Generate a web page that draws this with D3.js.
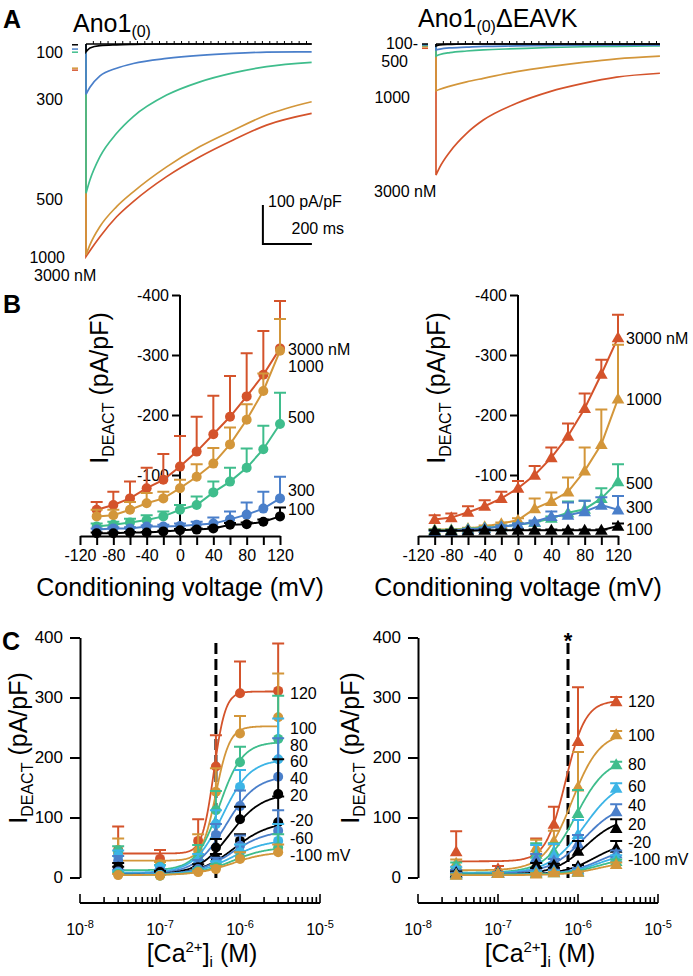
<!DOCTYPE html>
<html>
<head>
<meta charset="utf-8">
<script src="https://cdn.jsdelivr.net/npm/d3@7"></script>
<style>
  body { margin: 0; background: #fff; }
  svg text { font-family: "Liberation Sans", Arial, Helvetica, sans-serif; fill: #000; }
</style>
</head>
<body>
<svg id="chart" width="693" height="976"></svg>
<script>
// colours
const colRed = "#d4532b", colOrange = "#d3963a", colGreen = "#3fbd8c",
  colBlue = "#4a7fca", colSky = "#3cb4e6", colBlack = "#000";
// one colour per [Ca2+]: 100, 300, 500, 1000, 3000 nM
const caColors = [colBlack, colBlue, colGreen, colOrange, colRed];

// ---------- A: deactivation tail currents (pA/pF) at these times (ms)
const traceTimeWT = [0, 16, 57, 125, 193, 329, 465, 601, 737, 921];
const traceTimeMut = [0, 16, 57, 125, 193, 329, 465, 601, 737, 914];
const traceWT100 = [-20, -10, -4, -2, -1, 0, 0, 0, 0, 0];
const traceWT300 = [-129, -111, -82, -62, -50, -37, -29, -24, -21, -20];
const traceWT500 = [-383, -349, -289, -229, -186, -131, -97, -74, -58, -47];
const traceWT1000 = [-541, -515, -468, -417, -379, -315, -263, -221, -182, -148];
const traceWT3000 = [-545, -530, -494, -443, -404, -340, -289, -246, -208, -178];
const traceMut100 = [-5, -2, -1, 0, 0, 0, 0, 0, 0, 0];
const traceMut300 = [-15, -13, -10, -8, -6, -5, -4, -3, -3, -3];
const traceMut500 = [-31, -27, -22, -18, -15, -12, -9, -7, -6, -5];
const traceMut1000 = [-120, -116, -108, -97, -88, -71, -58, -47, -38, -31];
const traceMut3000 = [-336, -315, -276, -229, -195, -152, -122, -101, -85, -75];
// holding current before each trace
const holdWT = [-2, -13, -21, -62, -67];
const holdMut = [0, -2, -4, -7, -11];

// ---------- B: I-V, mean and SEM (pA/pF)
const voltages = [-100, -80, -60, -40, -20, 0, 20, 40, 60, 80, 100, 120];
const wt100 = [-3, -3, -4, -4, -6, -8, -9, -11, -17, -18, -22, -31];
const wt300 = [-9, -11, -11, -14, -14, -15, -17, -19, -26, -34, -44, -61];
const wt500 = [-14, -17, -21, -25, -31, -42, -50, -71, -89, -112, -143, -185];
const wt1000 = [-31, -33, -42, -53, -61, -78, -97, -119, -151, -192, -240, -307];
const wt3000 = [-42, -50, -61, -78, -92, -114, -139, -168, -197, -231, -267, -311];
const wt100Sem = [1, 1, 1, 1, 1, 2, 2, 2, 3, 3, 4, 15];
const wt300Sem = [2, 2, 2, 2, 3, 4, 5, 10, 13, 20, 28, 36];
const wt500Sem = [5, 5, 6, 8, 8, 8, 14, 18, 23, 32, 39, 52];
const wt1000Sem = [11, 9, 13, 17, 11, 14, 21, 26, 28, 26, 29, 53];
const wt3000Sem = [13, 22, 28, 34, 43, 51, 58, 64, 68, 72, 73, 79];
const mut100 = [-7, -7, -7, -8, -8, -8, -8, -8, -8, -8, -8, -15];
const mut300 = [-6, -7, -9, -11, -14, -17, -22, -31, -33, -39, -50, -42];
const mut500 = [-8, -8, -10, -12, -14, -17, -21, -28, -37, -43, -61, -89];
const mut1000 = [-9, -9, -11, -14, -19, -25, -44, -56, -72, -107, -151, -227];
const mut3000 = [-26, -29, -38, -48, -61, -78, -100, -129, -165, -211, -268, -329];
const mut100Sem = [1, 1, 1, 1, 1, 1, 1, 1, 1, 1, 1, 4];
const mut300Sem = [1, 1, 1, 1, 2, 2, 2, 8, 21, 18, 13, 23];
const mut500Sem = [1, 1, 1, 1, 2, 2, 2, 3, 19, 14, 17, 29];
const mut1000Sem = [1, 1, 1, 2, 2, 3, 17, 15, 24, 39, 58, 90];
const mut3000Sem = [7, 7, 10, 10, 11, 12, 15, 17, 21, 25, 24, 38];

// ---------- C: [Ca2+] dependence, per conditioning voltage
const caConc = [3e-8, 1e-7, 3e-7, 5e-7, 1e-6, 3e-6];
const cVolts = [120, 100, 80, 60, 40, 20, -20, -40, -60, -80, -100];
const cColors = [colRed, colOrange, colGreen, colSky, colBlue, colBlack, colBlack, colBlue, colSky, colGreen, colOrange];
const wtC30 = [46, 40, 44, 36, 28, 18, 14, 10, 8, 6, 4];
const wtC30Sem = [39, 25, 8, 9, 8, 6, 4, 3, 3, 2, 2];
const mutC30 = [43, 24, 20, 14, 10, 8, 7, 6, 5, 5, 4];
const mutC30Sem = [34, 6, 5, 4, 3, 2, 2, 2, 1, 1, 1];
const mutC3000 = [293, 238, 188, 149, 110, 82, 49, 40, 33, 27, 22];
const mutC3000Sem = [8, 6, 5, 8, 12, 15, 12, 5, 4, 3, 3];
// Hill fits: bottom, top, EC50 (M), slope
const wtFitBottom = [40, 28, 12, 8, 6, 5, 5, 5, 5, 4, 4];
const wtFitTop = [310, 252, 226, 197, 170, 140, 93, 79, 63, 51, 43];
const wtFitEC50 = [4.7e-7, 5.0e-7, 5.5e-7, 6.0e-7, 6.7e-7, 7.5e-7, 8.5e-7, 8e-7, 8e-7, 8e-7, 8e-7];
const wtFitHill = [6, 5, 3, 2.5, 2.3, 2.2, 2, 2, 2, 2, 2];
const mutFitBottom = [27, 12, 8, 7, 6, 5, 5, 5, 5, 5, 4];
const mutFitTop = [295, 242, 200, 165, 125, 100, 60, 50, 42, 34, 27];
const mutFitEC50 = [7e-7, 8.4e-7, 9.5e-7, 1.2e-6, 1.2e-6, 1.25e-6, 1.6e-6, 1.8e-6, 1.8e-6, 1.8e-6, 1.8e-6];
const mutFitHill = [3.5, 2.5, 2.25, 2, 2, 2.2, 2.2, 2.2, 2.2, 2.2, 2.2];
const ec50Marks = [5e-7, 7.5e-7];

const svg = d3.select("#chart");

function addText(x, y, s, size, anchor, weight) {
  return svg.append("text").attr("x", x).attr("y", y)
    .attr("text-anchor", anchor || "start")
    .style("font-size", size + "px").style("font-weight", weight || "normal")
    .text(s);
}

function styleAxis(g) {
  g.selectAll("path, line").attr("stroke", "#000").attr("stroke-width", 2);
  g.selectAll("text").style("font-size", "16px")
    .style("font-family", '"Liberation Sans", Arial, sans-serif');
}

function yTitle(x, y) {
  const t = svg.append("text")
    .attr("transform", "translate(" + x + "," + y + ") rotate(-90)")
    .attr("text-anchor", "middle").style("font-size", "25px");
  t.append("tspan").text("I");
  t.append("tspan").attr("dy", 6).style("font-size", "16px").text("DEACT");
  t.append("tspan").attr("dy", -6).text(" (pA/pF)");
}

// ================= panel A
function drawTraces(x0, times, traces, holds) {
  const x = d3.scaleLinear().domain([0, 1000]).range([x0, x0 + 245]);
  const y = d3.scaleLinear().domain([0, -100]).range([44, 83]);
  const line = d3.line().x((d, i) => x(times[i])).y(d => y(d)).curve(d3.curveMonotoneX);
  const g = svg.append("g");
  for (let k = traces.length - 1; k >= 0; k--) {
    const d = "M" + x(0) + "," + y(0) + "L" + line(traces[k]).slice(1);
    g.append("path").attr("d", d).attr("fill", "none")
      .attr("stroke", caColors[k]).attr("stroke-width", 1.7);
  }
  const tEnd = times[times.length - 1];
  g.append("line").attr("x1", x(0)).attr("x2", x(tEnd)).attr("y1", y(0)).attr("y2", y(0))
    .attr("stroke", "#000").attr("stroke-width", 1.5);
  g.selectAll(".zt").data(d3.range(30, tEnd, 30)).join("line")
    .attr("x1", d => x(d)).attr("x2", d => x(d))
    .attr("y1", y(0)).attr("y2", y(0) - 3).attr("stroke", "#000").attr("stroke-width", 1);
  for (let k = holds.length - 1; k >= 0; k--) {
    g.append("line").attr("x1", x0 - 14).attr("x2", x0 - 8)
      .attr("y1", y(holds[k])).attr("y2", y(holds[k]))
      .attr("stroke", caColors[k]).attr("stroke-width", 1.5);
  }
  return { x, y };
}

const aLeft = drawTraces(86, traceTimeWT, [traceWT100, traceWT300, traceWT500, traceWT1000, traceWT3000], holdWT);
drawTraces(436, traceTimeMut, [traceMut100, traceMut300, traceMut500, traceMut1000, traceMut3000], holdMut);

addText(3, 28, "A", 25, "start", "bold");
const t1 = addText(73, 32, "Ano1", 25);
t1.append("tspan").attr("dy", 5).style("font-size", "16px").text("(0)");
const t2 = addText(418, 27, "Ano1", 25);
t2.append("tspan").attr("dy", 5).style("font-size", "16px").text("(0)");
t2.append("tspan").attr("dy", -5).text("\u0394EAVK");

addText(63, 58, "100", 16, "end");
addText(63, 105, "300", 16, "end");
addText(63, 205, "500", 16, "end");
addText(65, 263, "1000", 16, "end");
addText(34, 281, "3000 nM", 16);
addText(418, 49, "100-", 16, "end");
addText(408, 67, "500", 16, "end");
addText(410, 103, "1000", 16, "end");
addText(374, 197, "3000 nM", 16);

// scale bar: 100 pA/pF, 200 ms
const sbT = 722, sbI = -513;
svg.append("path")
  .attr("d", "M" + aLeft.x(sbT) + "," + aLeft.y(sbI + 100) + "V" + aLeft.y(sbI) + "H" + aLeft.x(sbT + 200))
  .attr("fill", "none").attr("stroke", "#000").attr("stroke-width", 2);
addText(268, 207, "100 pA/pF", 16);
addText(344, 234, "200 ms", 16, "end");

// ================= panel B
function drawIV(x0, series, sems, triangle, labels) {
  const x = d3.scaleLinear().domain([-120, 120]).range([x0, x0 + 200]);
  const y = d3.scaleLinear().domain([0, -400]).range([535, 295]);
  const gx = svg.append("g").attr("transform", "translate(0,536)")
    .call(d3.axisBottom(x).tickValues([-120, -100, -80, -60, -40, -20, 0, 20, 40, 60, 80, 100, 120])
      .tickSize(9).tickPadding(5).tickSizeOuter(0)
      .tickFormat(d => (Math.abs(d) % 40 === 0 ? String(d) : "")));
  styleAxis(gx);
  const gy = svg.append("g").attr("transform", "translate(" + x(0) + ",0)")
    .call(d3.axisLeft(y).tickValues([-400, -300, -200, -100]).tickSize(8).tickPadding(3)
      .tickSizeOuter(0).tickFormat(String));
  styleAxis(gy);
  gy.select(".domain").attr("d", "M0,295V536");

  const line = d3.line().x((d, i) => x(voltages[i])).y(d => y(d));
  const sym = d3.symbol(d3.symbolTriangle, 70);
  for (let k = series.length - 1; k >= 0; k--) {
    const c = caColors[k], vals = series[k], se = sems[k];
    const g = svg.append("g");
    g.append("path").attr("d", line(vals)).attr("fill", "none").attr("stroke", c).attr("stroke-width", 2);
    vals.forEach((v, i) => {
      const xi = x(voltages[i]), yt = y(v - se[i]);
      g.append("path").attr("d", "M" + xi + "," + y(v) + "V" + yt + "M" + (xi - 6) + "," + yt + "H" + (xi + 6))
        .attr("stroke", c).attr("stroke-width", 2).attr("fill", "none");
    });
    if (triangle) {
      g.selectAll(".m").data(vals).join("path")
        .attr("transform", (d, i) => "translate(" + x(voltages[i]) + "," + (y(d) + 1) + ")")
        .attr("d", sym).attr("fill", c);
    } else {
      g.selectAll(".m").data(vals).join("circle")
        .attr("cx", (d, i) => x(voltages[i])).attr("cy", d => y(d)).attr("r", 5).attr("fill", c);
    }
  }
  labels.forEach(l => addText(x0 + 208, y(l[1]) + 5, l[0], 16));
  addText(x(0), 596, "Conditioning voltage (mV)", 25, "middle");
}

drawIV(80, [wt100, wt300, wt500, wt1000, wt3000],
  [wt100Sem, wt300Sem, wt500Sem, wt1000Sem, wt3000Sem], false,
  [["3000 nM", -309], ["1000", -280], ["500", -195], ["300", -73], ["100", -42]]);
drawIV(418, [mut100, mut300, mut500, mut1000, mut3000],
  [mut100Sem, mut300Sem, mut500Sem, mut1000Sem, mut3000Sem], true,
  [["3000 nM", -327], ["1000", -225], ["500", -85], ["300", -45], ["100", -9]]);
addText(3, 313, "B", 25, "start", "bold");
yTitle(108, 388);
yTitle(445, 388);

// ================= panel C
function drawCa(x0, bSeries, bSems, c30, c30Sem, c3000, c3000Sem, fit, triangle, ec50, labels) {
  const x = d3.scaleLog().domain([1e-8, 1e-5]).range([x0, x0 + 240]);
  const y = d3.scaleLinear().domain([0, 400]).range([877.5, 637.5]);

  const gy = svg.append("g").attr("transform", "translate(" + x0 + ",0)")
    .call(d3.axisLeft(y).tickValues([0, 100, 200, 300, 400]).tickSize(10).tickPadding(7).tickSizeOuter(0));
  styleAxis(gy);
  gy.selectAll("text").style("font-size", "17px");

  // log x axis, ticks pointing up
  const xa = svg.append("g");
  xa.append("line").attr("x1", x0).attr("x2", x0 + 240).attr("y1", 903).attr("y2", 903)
    .attr("stroke", "#000").attr("stroke-width", 2);
  xa.selectAll(".t").data(x.ticks()).join("line")
    .attr("x1", d => x(d)).attr("x2", d => x(d)).attr("y1", 903)
    .attr("y2", d => (Number.isInteger(Math.round(Math.log10(d) * 1000) / 1000) ? 894 : 897))
    .attr("stroke", "#000").attr("stroke-width", 1.6);
  [-8, -7, -6, -5].forEach(p => {
    const t = addText(x(Math.pow(10, p)), 935, "10", 16, "middle");
    t.append("tspan").attr("dy", -7).style("font-size", "11px").text(String(p));
  });
  const xt = addText(x0 + 122, 962, "[Ca", 25, "middle");
  xt.append("tspan").attr("dy", -10).style("font-size", "15px").text("2+");
  xt.append("tspan").attr("dy", 10).text("]");
  xt.append("tspan").attr("dy", 5).style("font-size", "15px").text("i");
  xt.append("tspan").attr("dy", -5).text(" (M)");

  // dashed EC50 marker
  svg.append("line").attr("x1", x(ec50)).attr("x2", x(ec50)).attr("y1", 643).attr("y2", 880)
    .attr("stroke", "#000").attr("stroke-width", 3).attr("stroke-dasharray", "11,5");

  const sym = d3.symbol(d3.symbolTriangle, 70);
  const fitLine = d3.line().x(d => x(d[0])).y(d => y(d[1])).curve(d3.curveLinear);
  const logGrid = d3.range(0, 201).map(i => Math.pow(10, Math.log10(caConc[0]) + i * (Math.log10(caConc[5]) - Math.log10(caConc[0])) / 200));

  cVolts.forEach((v, j) => {
    const vi = voltages.indexOf(v);
    const vals = [c30[j]], se = [c30Sem[j]];
    for (let k = 0; k < 4; k++) { vals.push(-bSeries[k][vi]); se.push(bSems[k][vi]); }
    if (c3000) { vals.push(c3000[j]); se.push(c3000Sem[j]); }
    else { vals.push(-bSeries[4][vi]); se.push(bSems[4][vi]); }
    const c = cColors[j];
    const g = svg.append("g");
    const hill = cc => fit.bottom[j] + (fit.top[j] - fit.bottom[j]) / (1 + Math.pow(fit.ec50[j] / cc, fit.hill[j]));
    g.append("path").attr("d", fitLine(logGrid.map(cc => [cc, hill(cc)])))
      .attr("fill", "none").attr("stroke", c).attr("stroke-width", 1.8);
    vals.forEach((d, i) => {
      const xi = x(caConc[i]), yt = y(d + se[i]);
      g.append("path").attr("d", "M" + xi + "," + y(d) + "V" + yt + "M" + (xi - 6) + "," + yt + "H" + (xi + 6))
        .attr("stroke", c).attr("stroke-width", 2).attr("fill", "none");
    });
    if (triangle) {
      g.selectAll(".m").data(vals).join("path")
        .attr("transform", (d, i) => "translate(" + x(caConc[i]) + "," + (y(d) + 1) + ")")
        .attr("d", sym).attr("fill", c);
    } else {
      g.selectAll(".m").data(vals).join("circle")
        .attr("cx", (d, i) => x(caConc[i])).attr("cy", d => y(d)).attr("r", 5).attr("fill", c);
    }
  });
  labels.forEach(l => addText(x0 + 210, y(l[1]) + 5, l[0], 16));
  return { x, y };
}

drawCa(80, [wt100, wt300, wt500, wt1000, wt3000], [wt100Sem, wt300Sem, wt500Sem, wt1000Sem, wt3000Sem],
  wtC30, wtC30Sem, null, null,
  { bottom: wtFitBottom, top: wtFitTop, ec50: wtFitEC50, hill: wtFitHill }, false, ec50Marks[0],
  [["120", 306], ["100", 247], ["80", 220], ["60", 193], ["40", 165], ["20", 136], ["-20", 94], ["-60", 65], ["-100 mV", 36]]);
const cR = drawCa(418, [mut100, mut300, mut500, mut1000, mut3000], [mut100Sem, mut300Sem, mut500Sem, mut1000Sem, mut3000Sem],
  mutC30, mutC30Sem, mutC3000, mutC3000Sem,
  { bottom: mutFitBottom, top: mutFitTop, ec50: mutFitEC50, hill: mutFitHill }, true, ec50Marks[1],
  [["120", 293], ["100", 236], ["80", 187.5], ["60", 151], ["40", 119], ["20", 88], ["-20", 58], ["-100 mV", 29]]);
addText(cR.x(ec50Marks[1]), 648, "*", 22, "middle", "bold");
addText(2, 650, "C", 25, "start", "bold");
yTitle(27, 748);
yTitle(359, 748);
</script>
</body>
</html>
